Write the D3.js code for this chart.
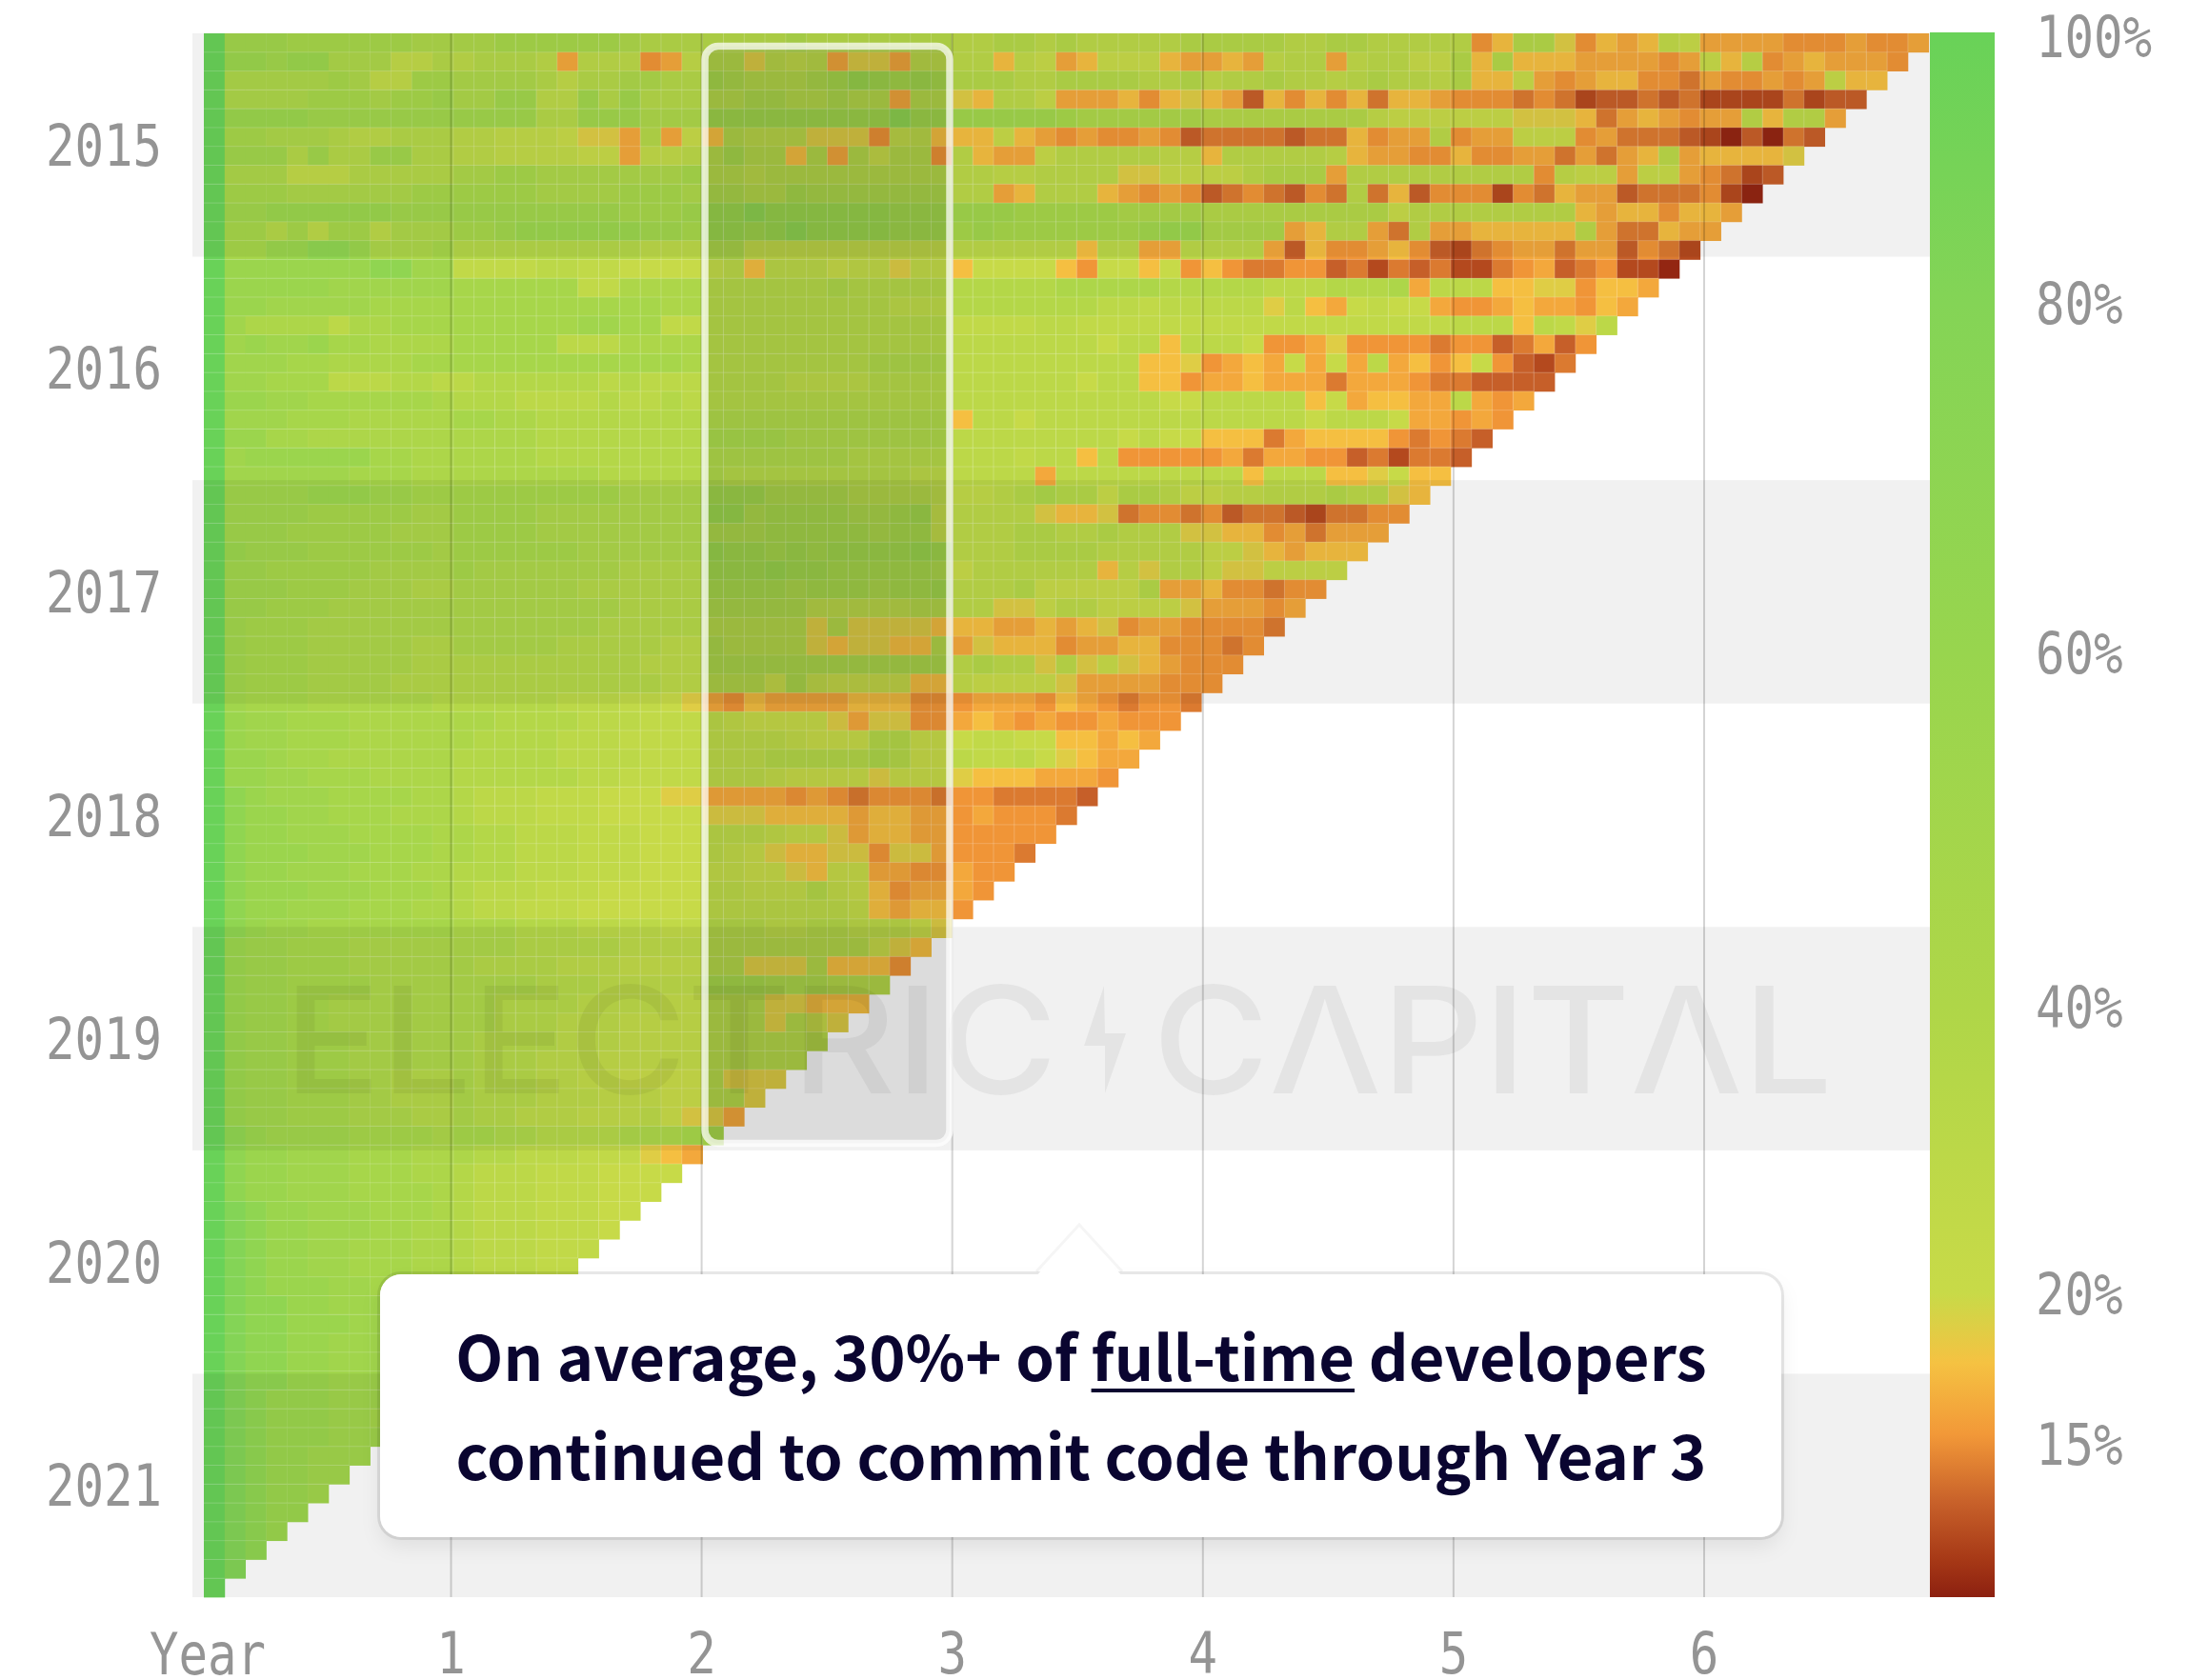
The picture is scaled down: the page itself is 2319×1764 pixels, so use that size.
<!DOCTYPE html>
<html><head><meta charset="utf-8">
<script src="https://cdn.jsdelivr.net/npm/d3@7/dist/d3.min.js"></script>
<style>html,body{margin:0;background:#fff}svg{display:block}</style></head>
<body><svg id="c" width="2319" height="1764"></svg>
<script>
// Retention levels (percent) addressed by the characters in cohortRows
const levelKeys = "0123456789abcdefghij".split("");
const levelValues = [10.3,12,13,14.1,15.2,16.2,17.5,18.8,21,26,30,36,42,47,52,57,68,80,90,100];
// One string per monthly cohort; spaces separate program years
const cohortRows = [
"jeeeddddddcc ccddddddcbbb bbbbcbbbbbbb aabbabaaaaab bbbbaabbaaaa a46bb7465698 55554445445",
"jffeffccc99b abbba5aaa459 bb7a9a5775aa aa6985688865 5659aa59aa88 b6b666555545 8694565554",
"jcccccdc99dd ccccb9bbccbb dcbbbcdfeded bbbaabbbbaab 9aabaa9abaa9 b66854566443 544545866",
"jccccdddcdde cceeaaebebbb bbccbbcbb5bb 76aa85556467 652646463665 444343122323 11113122",
"jffffeeeeeee eeeebbeeeccc eeeeeeeeegee eeeeedcccccc bbbbbbbb9888 888777635654 55a6aa5",
"jddcccbaabbb aa9998775b58 6baaa77749a6 668654544542 33332336455a 455888453332 102032",
"jeeebebbeebb aa999988599a bdbb6b5b8bb4 a6558aaaaa99 6aaaaa965544 6445535356a5 66667",
"jccc999bbbbb ccddcccccccd bbabbbbbbbbb aa99aaaa7788 88abbb5aaaaa aaaa49885885 4312",
"jdddccccccdd ddddccccdddc ccbbdccccccc aa56aaa65454 2343243a3624 441436552333 410",
"jeeffffffeee eeeeeeeeddde ffgffffffeee eeedddddcccc bbbbbbbbb8aa aaaaaa656646 65",
"jddbdaddaccc ddeffffffeed ffefgffffeee dedddddddeff cccc56aa53a5 566666a53365 5",
"jddffggfcccd bbbbbbbbbaaa cc9999999999 aaaaaa6aa55a aaa526445642 134553552431",
"jfffffffggee 9999aa998888 9a6aaa899799 688886488684 643344231323 11345234110",
"jfffffeeeeee dddddd99cccc bbbbbbcbbbbb bbbbbcccccbb bbbaaabbbc5a aa66774665",
"jffeeeeedddd ddddddddddcc bbbbbbbbbaaa bbbbbbbaa9aa aaa7a6589885 445655465",
"jeccccaccddd ddddddeedd99 bbbbbbbbbbbb 9999aa999999 999999999999 aaa6a97a",
"jefeefddcccc dddddaaacccc bbbbbbbbbbbb aaaaaaa8aa6a aa8445744443 4423524",
"jeeeddccccdd dddddddddddc bbbbbbbbcccc aaaaaaaaa667 45658585a564 684213",
"jeedddaaabba abbbbbbabaaa bbbbaaaabbbb aaaaaa8aa664 556555355543 32222",
"jffeeddddddc bbbaaaabaaba bbbbbbbbbbbb aaaaaaaaaa88 aaaaa6856655 a545",
"jeeedddccccc ddccbbbbbbbb cccccccccccc 6aa8aaaaaaaa aaaaa8aaa855 454",
"jffddccccccc ccccbbbbbbbb ddddcccccccc aaaaaaaa8a88 666356666434 32",
"jeffffffddcc ccccbbbbbbbb cccccccbbbbb aaa9aa6a4444 453554423133 2",
"jeeeeeedddcc cccccccbbbbb cbbbbbbbbbaa aaaa5aaaaaaa aa6aaa667866",
"jeeeefffeedd ddddddddcccc eeeccccbbbba 99abcbb8bba8 899aaabaa76",
"jeeeedddddcc ddddcccccccc ffcddddccde9 aaaa76673443 4233213344",
"jeeedddddccc ddddcccccccc cccdddddcdd9 aaabbaabaaa7 766453555",
"jfeeeddddddc ddddddcccccc feededeeeefe aaabbbbaaaaa 88765666",
"jeedddddcccc dcccccccbbbb eeefeedddddc 8aaaaaa697aa 8778888",
"jeeedddcccbb ccccccbbbbbb ddddcdddcdde aaab88888b55 644344",
"jeedddcccccc ccccccccbbbb cccccaaaaabb aa778aa88887 55545",
"jedddccccccc cccccccbbbbb bbbbb7b77776 665565674554 4443",
"jedddcccccbb cccccbbbbbaa cbbbb767766b 576664556644 434",
"jedddcccccbb bbbbbbbbbaaa cccccccccccc abaa7a787654 44",
"jedddccccbbb bbbbbbbbbbaa bbb8c9888866 988887555544 4",
"jedddccccccb bbbbbaaa9987 546555566644 455546543443",
"jfeedddccccc ccbbbbaaa999 a98888757744 56545445444",
"jfeedddccccc cbbbbaaa9999 aaaa9888bb88 8998866565",
"jffeddcccccc bbbbbaaaa999 aaabbbbbcb88 a99a87655",
"jffeedddcccc bbbbbbaa9999 aaa988887888 76665554",
"jgfeeeddddcc baaa99988877 555545434443 4433332",
"jgffeedddccc baaa99988888 777666656655 454443",
"jgffeeeddddc cbbaaa999888 aaa988756655 44444",
"jgfffeeedddc cbbaaa999888 a98766774775 4443",
"jgffeeedddcc bbbaaa999888 998876885544 544",
"jgfffeeedddc baaa99988888 aa999b986455 54",
"jgffeeedddcc baa999888888 aaaaaaa96566 4",
"jgfeeddddddd cccbbbaaaa99 bbbaabbaaa87",
"jfeedddccccc cccbbbbbaaaa bbbbbbbb876",
"jfeedddccccc cbbbbaaa9999 bb777b6664",
"jfeeddddcccc ccccbbbaaaaa dddcccbbb",
"jfeeddcccccc ccbbbbaaaa99 bbb77666",
"jfeeddcccccc ccbbbaaa9999 bbb7b87",
"jfeedddccccc cbbbbaaa9999 bbbbbb",
"jfeedddccccc cbbbaaa99999 bbbbb",
"jfeedddccbbb cbbbaa998888 b777",
"jfeedddccbbb cbbbaaa99988 bb7",
"jfeedddcccbb cbbaaa999a87 75",
"jgfeeeeddddc ddccbbbbcccd d",
"jgffeeedddcc cbbaaa999765",
"jgffeeedddcc baaa9998888",
"jgffeeeddddc baaa999888",
"jhgffeeedddc baaa99988",
"jhgffeeeddcc baaa9998",
"jhgffeedddcc baaa999",
"jhgffeedddcc baaa99",
"jhgfffeedddc bbaa9",
"jhggffeeeddc cbba",
"jhggfffeeddc cbb",
"jhggffeeeddc cb",
"jhggffeeeddd c",
"jhggffeeeddd",
"jhgfffeeedd",
"jhgfffeedd",
"jhgfffeee",
"jhgffeee",
"jhgffee",
"jhgffe",
"jhgff",
"jhgf",
"jhg",
"jh",
"j"
];
const cohortYears = [2015,2016,2017,2018,2019,2020,2021];
const shadedYears = [2015,2017,2019,2021];
const programYears = [1,2,3,4,5,6];
const legendTicks = [100,80,60,40,20,15];
const colorDomain = [100,80,60,40,20,17.7,15.3,13.1,11.2,10];
const colorRange = ["#69d258","#84d456","#98d54e","#afd648","#c8da48","#f5c242","#f29838","#c8612a","#a63816","#8c2010"];
const legendDomain = [100,80,60,40,20,15,10];
const legendRange = [38,318,685,1057,1358,1516,1677];

const F = {mono:'"DejaVu Sans Mono",monospace', gray:"#949494", size:60, adv:30.5};
const color = d3.scaleLinear().domain(colorDomain).range(colorRange);
const levelOf = new Map(levelKeys.map((k,i)=>[k,levelValues[i]]));
const cells = cohortRows.flatMap((s,r)=>s.replace(/ /g,"").split("").map((k,c)=>({r,c,v:levelOf.get(k)})));

const nCols = 83;
const xCell = d3.scaleBand().domain(d3.range(nCols)).range([214,2024.7]);
const yCell = d3.scaleBand().domain(d3.range(nCols)).range([35,1677]);
const xYear = d3.scaleLinear().domain([1,6]).range([473,1788.5]);
const yYear = d3.scaleBand().domain(cohortYears).range([35,1677]);
const yLegend = d3.scaleLinear().domain(legendDomain).range(legendRange);

const svg = d3.select("#c");
const defs = svg.append("defs");
const grad = defs.append("linearGradient").attr("id","lg").attr("x1",0).attr("x2",0).attr("y1",0).attr("y2",1);
const barTop = 34, barBot = 1677;
colorDomain.forEach(v=>grad.append("stop")
  .attr("offset",(yLegend(v)-barTop)/(barBot-barTop)).attr("stop-color",color(v)));

// cells
svg.append("g").selectAll("rect").data(cells).join("rect")
  .attr("x",d=>xCell(d.c)).attr("y",d=>yCell(d.r))
  .attr("width",xCell.bandwidth()+.4).attr("height",yCell.bandwidth()+.4)
  .attr("fill",d=>color(d.v));

// faint seams between cells
const seams = svg.append("g").attr("stroke","#fff").attr("stroke-width",1);
seams.selectAll("line.h").data(d3.range(1,nCols)).join("line").attr("class","h")
  .attr("x1",xCell(0)).attr("x2",r=>xCell(nCols-r-1)+xCell.bandwidth())
  .attr("y1",r=>yCell(r)).attr("y2",r=>yCell(r)).attr("stroke-opacity",.2);
seams.selectAll("line.v").data(d3.range(7,nCols)).join("line").attr("class","v")
  .attr("y1",yCell(0)).attr("y2",c=>yCell(nCols-c-1)+yCell.bandwidth())
  .attr("x1",c=>xCell(c)).attr("x2",c=>xCell(c)).attr("stroke-opacity",c=>c<12?.1:.22);

// alternating year bands
svg.append("g").selectAll("rect").data(shadedYears).join("rect")
  .attr("x",202).attr("width",1824).attr("y",d=>yYear(d)).attr("height",yYear.bandwidth())
  .attr("fill","#000").attr("fill-opacity",.055);

// axes
function styleTicks(g,anchor){
  g.select(".domain").remove();
  g.selectAll("text").attr("font-family",F.mono).attr("font-size",F.size).attr("fill",F.gray)
    .attr("text-anchor",anchor)
    .each(function(){const n=this.textContent.length;d3.select(this).attr("textLength",n*F.adv).attr("lengthAdjust","spacingAndGlyphs");});
}
const gx = svg.append("g").attr("transform","translate(0,1677)")
  .call(d3.axisBottom(xYear).tickValues(programYears).tickFormat(d3.format("d")).tickSize(-1642).tickPadding(37));
gx.selectAll("line").attr("stroke","#000").attr("stroke-opacity",.17).attr("stroke-width",2);
styleTicks(gx,"middle");
gx.selectAll("text").attr("dy","0.71em");
svg.append("text").text("Year").attr("x",218).attr("y",1758).attr("font-family",F.mono).attr("font-size",F.size)
  .attr("fill",F.gray).attr("text-anchor","middle").attr("textLength",4*F.adv).attr("lengthAdjust","spacingAndGlyphs");
const gy = svg.append("g").attr("transform","translate(170,0)")
  .call(d3.axisLeft(yYear).tickSize(0).tickPadding(0).tickFormat(d3.format("d")));
styleTicks(gy,"end");
gy.selectAll("text").attr("dy","0.36em");

// colour legend
svg.append("rect").attr("x",2026).attr("y",barTop).attr("width",68).attr("height",barBot-barTop).attr("fill","url(#lg)");
const gl = svg.append("g").attr("transform","translate(2137,0)")
  .call(d3.axisRight(yLegend).tickValues(legendTicks).tickSize(0).tickPadding(0).tickFormat(d=>d+"%"));
styleTicks(gl,"start");
gl.selectAll("text").attr("dy","0.36em");

// watermark
const wm = svg.append("g").attr("fill","#000").attr("fill-opacity",.05).attr("font-family","Inter").attr("font-size",156).attr("font-weight",500);
wm.append("text").text("ELECTRIC").attr("x",298).attr("y",1148).attr("textLength",812).attr("lengthAdjust","spacingAndGlyphs");
wm.append("text").text("C\u039BPIT\u039BL").attr("x",1210).attr("y",1148).attr("textLength",714).attr("lengthAdjust","spacingAndGlyphs");
wm.append("path").attr("d","M1159,1035L1138,1098H1160V1148L1182,1085H1160Z");

// highlight of year 3
svg.append("rect").attr("x",740).attr("y",48.5).attr("width",257).attr("height",1152).attr("rx",14)
  .attr("fill","#000").attr("fill-opacity",.085).attr("stroke","#fff").attr("stroke-opacity",.72).attr("stroke-width",7.5);

// callout
const box = svg.append("g");
box.append("rect").attr("x",399).attr("y",1338).attr("width",1471).attr("height",276).attr("rx",22)
  .attr("fill","#fff").attr("stroke","#000").attr("stroke-opacity",.09).attr("stroke-width",6)
  .style("filter","drop-shadow(0 10px 10px rgba(0,0,0,.07))");
box.append("rect").attr("x",399).attr("y",1338).attr("width",1471).attr("height",276).attr("rx",22).attr("fill","#fff");
box.append("path").attr("d","M1088,1340L1133,1286L1178,1340Z").attr("fill","#fff");
box.append("path").attr("d","M1088,1335L1133,1286L1178,1335").attr("fill","none").attr("stroke","#000").attr("stroke-opacity",.04).attr("stroke-width",3);
const tStyle = s=>s.attr("font-family",'"Noto Sans CJK SC"').attr("font-weight",700).attr("font-size",65).attr("fill","#0a0530").attr("text-anchor","middle").attr("x",1135);
const t1 = box.append("text").call(tStyle).attr("y",1450);
const lead = "On average, 30%+ of ", key = "full-time", rest = " developers";
t1.text(lead+key+rest);
box.append("text").call(tStyle).attr("y",1554).text("continued to commit code through Year 3");
const n = t1.node();
const ux0 = n.getStartPositionOfChar(lead.length).x, ux1 = n.getEndPositionOfChar(lead.length+key.length-1).x;
box.append("line").attr("x1",ux0).attr("x2",ux1).attr("y1",1460).attr("y2",1460).attr("stroke","#0a0530").attr("stroke-width",4);
</script></body></html>
